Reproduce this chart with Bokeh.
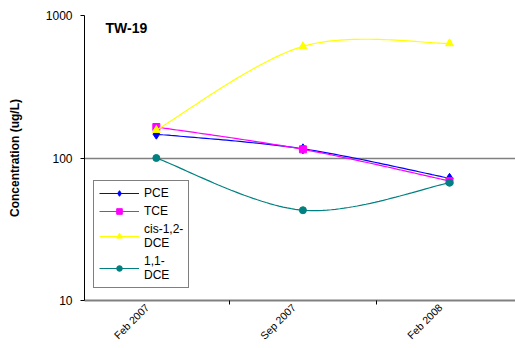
import numpy as np
from bokeh.plotting import figure
from bokeh.models import FixedTicker, NumeralTickFormatter, Label, Legend
from bokeh.embed import file_html
from bokeh.resources import INLINE

# ---- data ----
dates = ["Feb 2007", "Sep 2007", "Feb 2008"]
pce = [147, 116, 72]
tce = [165, 115, 69]
cis12dce = [157, 607, 637]
dce11 = [100, 43, 67]
y_ticks = [10, 100, 1000]

FONT = "Liberation Sans"

def smooth(xs, ys, n=40):
    """Catmull-Rom (Excel-like smoothing) in index / log10 space."""
    xs = np.asarray(xs, float)
    ly = np.log10(np.asarray(ys, float))
    px = np.concatenate([[xs[0]], xs, [xs[-1]]])
    py = np.concatenate([[ly[0]], ly, [ly[-1]]])
    ox, oy = [], []
    for i in range(1, len(px) - 2):
        p0x, p1x, p2x, p3x = px[i - 1], px[i], px[i + 1], px[i + 2]
        p0y, p1y, p2y, p3y = py[i - 1], py[i], py[i + 1], py[i + 2]
        m1x, m2x = (p2x - p0x) / 2, (p3x - p1x) / 2
        m1y, m2y = (p2y - p0y) / 2, (p3y - p1y) / 2
        t = np.linspace(0, 1, n)
        h00 = 2 * t**3 - 3 * t**2 + 1
        h10 = t**3 - 2 * t**2 + t
        h01 = -2 * t**3 + 3 * t**2
        h11 = t**3 - t**2
        ox.extend(h00 * p1x + h10 * m1x + h01 * p2x + h11 * m2x)
        oy.extend(h00 * p1y + h10 * m1y + h01 * p2y + h11 * m2y)
    return np.array(ox), 10 ** np.array(oy)

xidx = list(range(len(dates)))
label_pos = [i - 0.0625 for i in xidx]

p = figure(width=515, height=348, y_axis_type="log", y_range=(10, 1000),
           x_range=(-0.49, 2.45), output_backend="svg", toolbar_location=None,
           min_border_left=84, min_border_right=0, min_border_top=15,
           min_border_bottom=48)
p.outline_line_color = None
p.background_fill_color = "white"
p.border_fill_color = "white"
p.xgrid.visible = False
p.ygrid.ticker = FixedTicker(ticks=y_ticks, minor_ticks=[])
p.ygrid.grid_line_color = "#808080"
p.ygrid.grid_line_width = 1.5

# y axis
p.yaxis.ticker = FixedTicker(ticks=y_ticks, minor_ticks=[])
p.yaxis.formatter = NumeralTickFormatter(format="0")
p.yaxis.axis_line_color = "black"
p.yaxis.axis_line_width = 1
p.yaxis.major_tick_in = 0
p.yaxis.major_tick_out = 4
p.yaxis.minor_tick_line_color = None
p.yaxis.major_label_text_font = FONT
p.yaxis.major_label_text_font_size = "12px"
p.yaxis.major_label_text_color = "black"
p.yaxis.major_label_standoff = 8
p.yaxis.axis_label = "Concentration (ug/L)"
p.yaxis.axis_label_text_font = FONT
p.yaxis.axis_label_text_font_size = "12px"
p.yaxis.axis_label_text_font_style = "bold"
p.yaxis.axis_label_text_color = "black"
p.yaxis.axis_label_standoff = 21

# x axis
p.xaxis.ticker = FixedTicker(ticks=label_pos,
                             minor_ticks=[i - 0.5 for i in xidx] + [len(xidx) - 0.5])
p.xaxis.major_label_overrides = {lp: d for lp, d in zip(label_pos, dates)}
p.xaxis.major_label_orientation = np.pi / 4
p.xaxis.major_tick_in = 0
p.xaxis.major_tick_out = 0
p.xaxis.minor_tick_in = 0
p.xaxis.minor_tick_out = 4
p.xaxis.minor_tick_line_color = "black"
p.xaxis.axis_line_color = "#808080"
p.xaxis.axis_line_width = 2
p.xaxis.major_label_text_font = FONT
p.xaxis.major_label_text_font_size = "10.5px"
p.xaxis.major_label_text_color = "black"
p.xaxis.major_label_standoff = 1

series = [
    ("PCE", pce, "#0000FF", "diamond", 10),
    ("TCE", tce, "#FF00FF", "square", 7),
    ("cis-1,2-\nDCE", cis12dce, "#FFFF00", "triangle", 8),
    ("1,1-\nDCE", dce11, "#008080", "circle", 7),
]
items = []
for name, vals, col, mk, sz in series:
    sx, sy = smooth(xidx, vals)
    r1 = p.line(sx, sy, line_color=col, line_width=1.2)
    r2 = p.scatter(xidx, vals, marker=mk, size=sz, fill_color=col, line_color=col)
    items.append((name, [r1, r2]))

legend = Legend(items=items, location=(9, 12))
legend.border_line_color = "black"
legend.border_line_width = 1
legend.background_fill_color = "white"
legend.background_fill_alpha = 1
legend.label_text_font = FONT
legend.label_text_font_size = "12px"
legend.label_text_color = "black"
legend.label_text_line_height = 1.0
legend.glyph_width = 40
legend.glyph_height = 14
legend.label_standoff = 5
legend.spacing = 4
legend.padding = 5
legend.margin = 0
p.add_layout(legend, "center")

title = Label(x=21, y=265, x_units="screen", y_units="screen", text="TW-19",
              text_font=FONT, text_font_size="14px", text_font_style="bold",
              text_color="black")
p.add_layout(title)

open("out.html", "w").write(file_html(p, INLINE))
